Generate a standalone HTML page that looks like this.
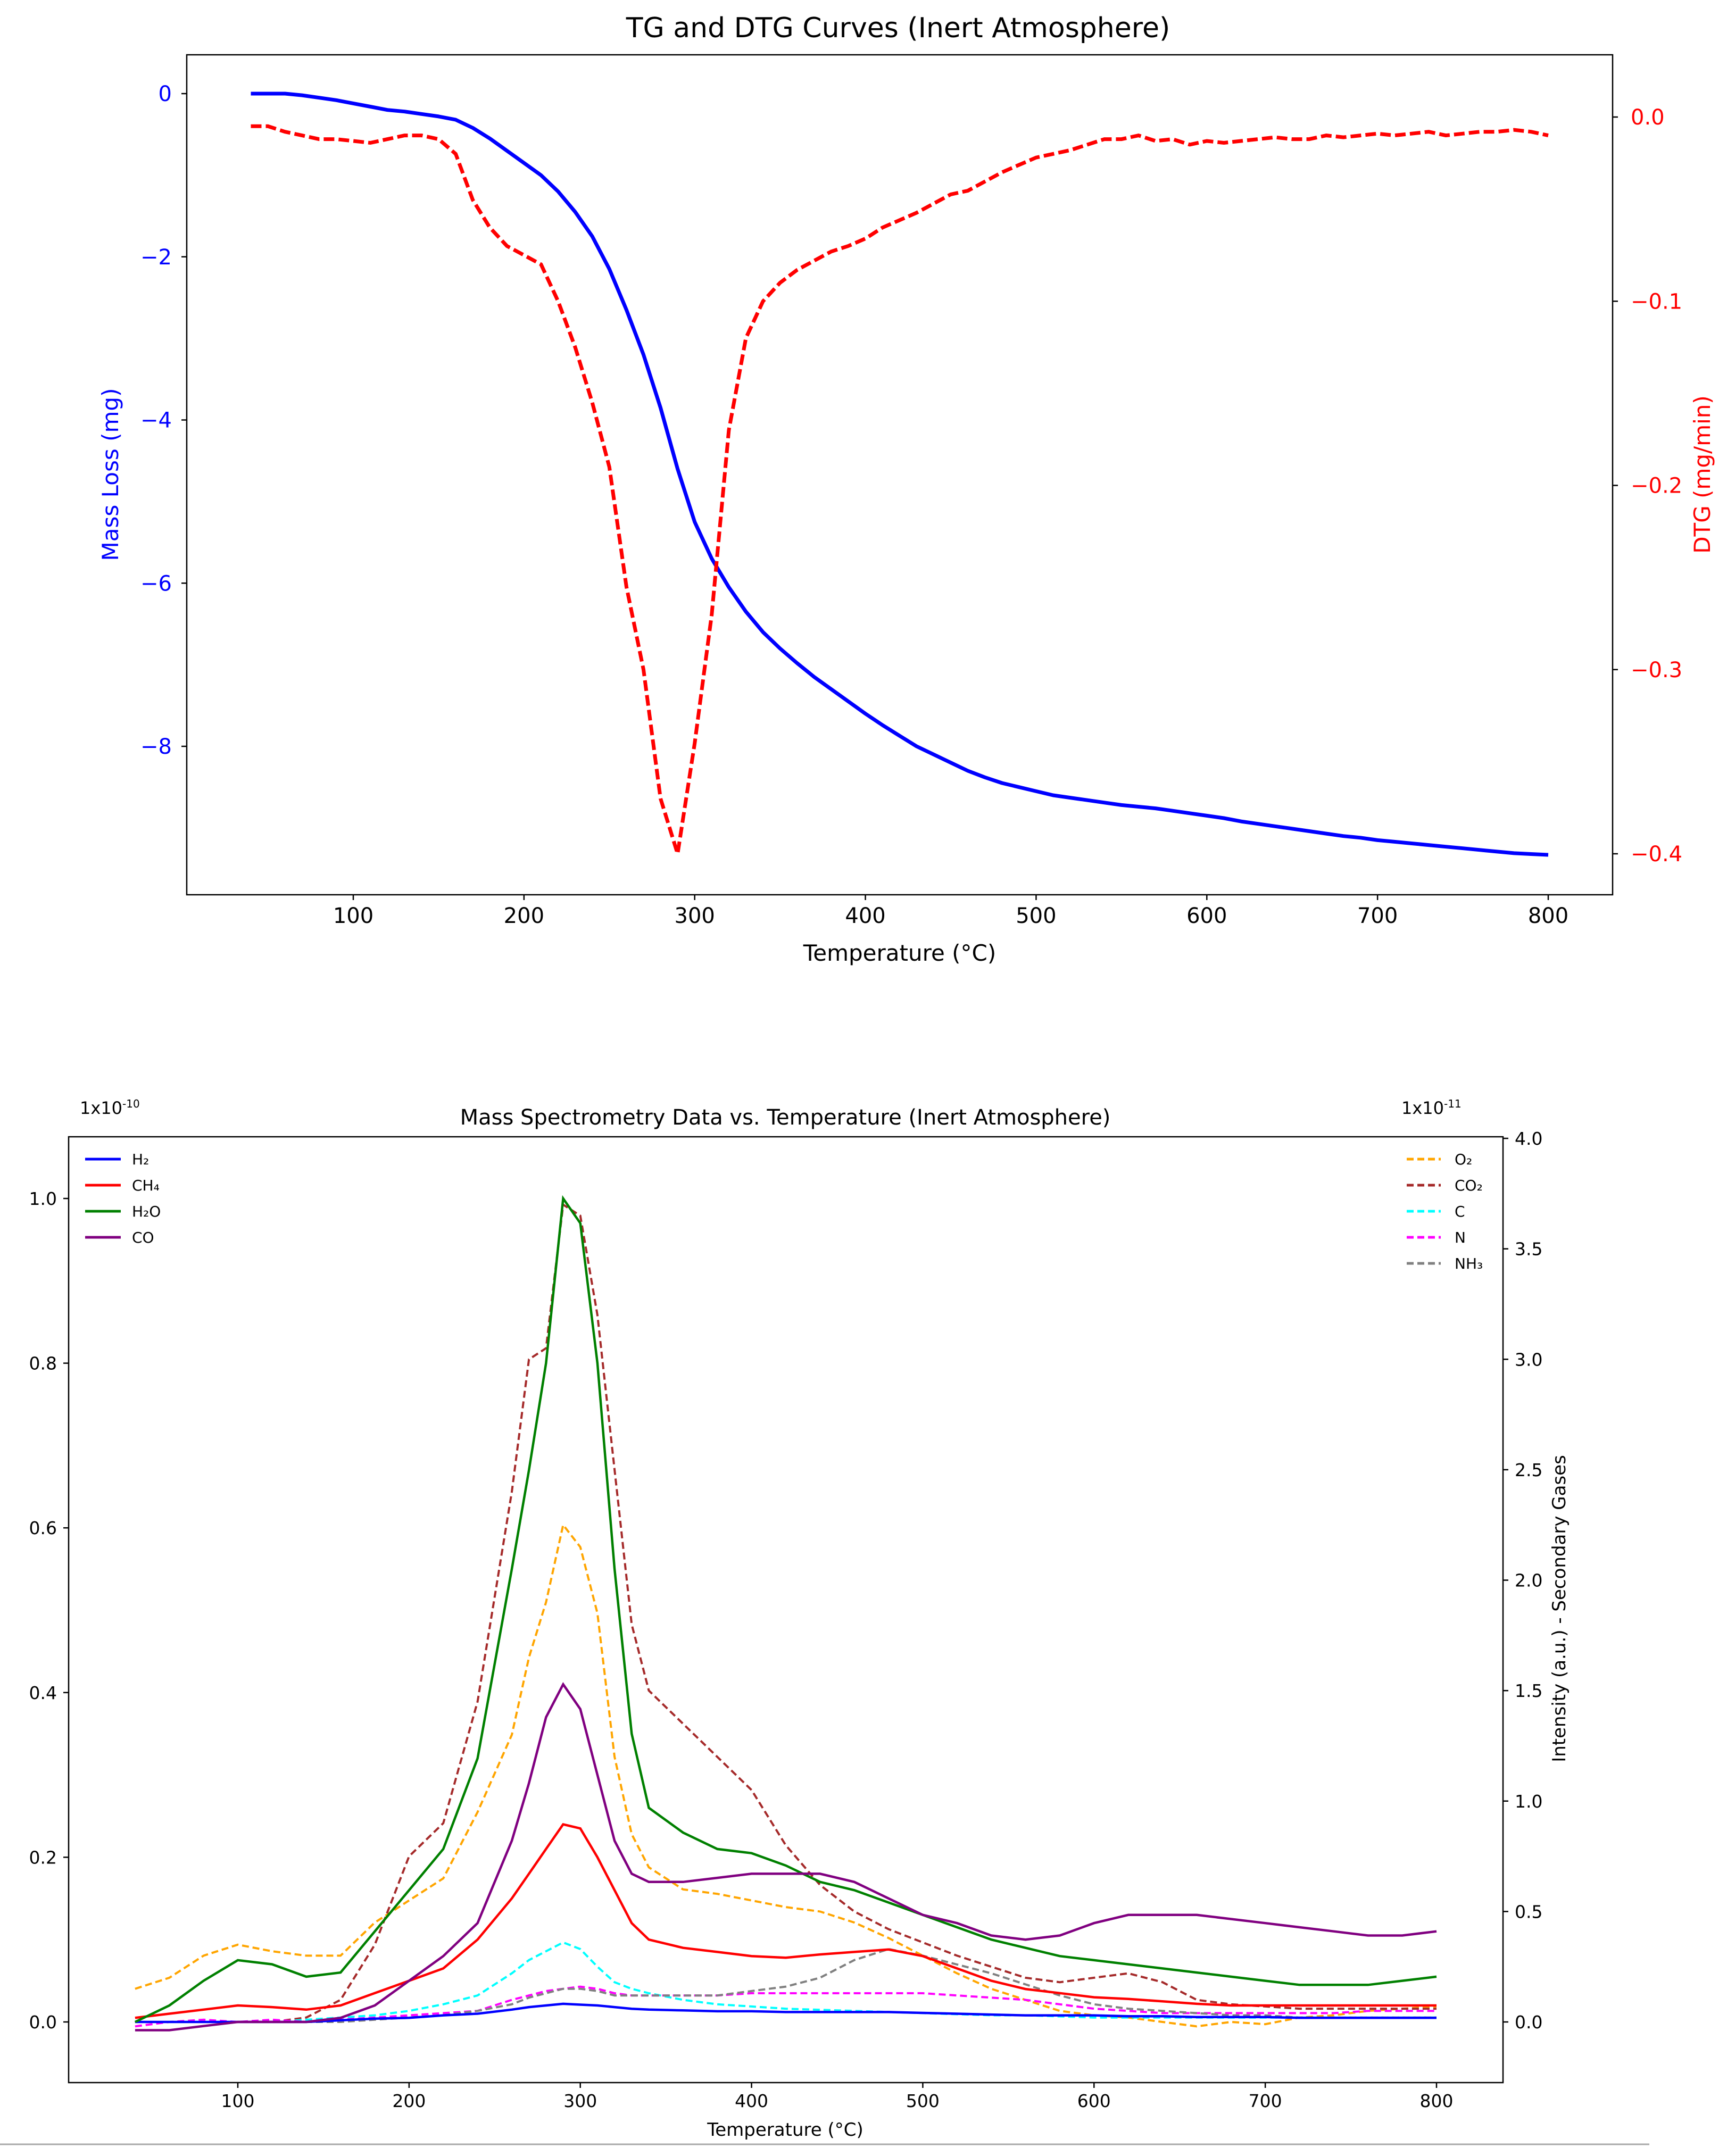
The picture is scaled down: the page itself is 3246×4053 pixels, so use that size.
<!DOCTYPE html>
<html><head><meta charset="utf-8"><style>
html,body{margin:0;padding:0;background:#fff;}
svg{display:block;font-family:"DejaVu Sans","Liberation Sans",sans-serif;}
</style></head><body>
<svg id="chart" width="3246" height="4053" viewBox="0 0 3246 4053" xmlns="http://www.w3.org/2000/svg"></svg>
<script>
// ---------- Top chart data ----------
const tgTemps = [40,50,60,70,80,90,100,110,120,130,140,150,160,170,180,190,200,210,220,230,240,250,260,270,280,290,300,310,320,330,340,350,360,370,380,390,400,410,420,430,440,450,460,470,480,490,500,510,520,530,540,550,560,570,580,590,600,610,620,630,640,650,660,670,680,690,700,710,720,730,740,750,760,770,780,790,800];
const tgMass = [0,0,0,-0.02,-0.05,-0.08,-0.12,-0.16,-0.2,-0.22,-0.25,-0.28,-0.32,-0.42,-0.55,-0.7,-0.85,-1.0,-1.2,-1.45,-1.75,-2.15,-2.65,-3.2,-3.85,-4.6,-5.25,-5.7,-6.05,-6.35,-6.6,-6.8,-6.98,-7.15,-7.3,-7.45,-7.6,-7.74,-7.87,-8.0,-8.1,-8.2,-8.3,-8.38,-8.45,-8.5,-8.55,-8.6,-8.63,-8.66,-8.69,-8.72,-8.74,-8.76,-8.79,-8.82,-8.85,-8.88,-8.92,-8.95,-8.98,-9.01,-9.04,-9.07,-9.1,-9.12,-9.15,-9.17,-9.19,-9.21,-9.23,-9.25,-9.27,-9.29,-9.31,-9.32,-9.33];
const dtgValues = [-0.005,-0.005,-0.008,-0.01,-0.012,-0.012,-0.013,-0.014,-0.012,-0.01,-0.01,-0.012,-0.02,-0.045,-0.06,-0.07,-0.075,-0.08,-0.1,-0.125,-0.155,-0.19,-0.255,-0.3,-0.37,-0.4,-0.34,-0.27,-0.17,-0.12,-0.1,-0.09,-0.083,-0.078,-0.073,-0.07,-0.066,-0.06,-0.056,-0.052,-0.047,-0.042,-0.04,-0.035,-0.03,-0.026,-0.022,-0.02,-0.018,-0.015,-0.012,-0.012,-0.01,-0.013,-0.012,-0.015,-0.013,-0.014,-0.013,-0.012,-0.011,-0.012,-0.012,-0.01,-0.011,-0.01,-0.009,-0.01,-0.009,-0.008,-0.01,-0.009,-0.008,-0.008,-0.007,-0.008,-0.01];
const topXTicks = [100,200,300,400,500,600,700,800];
const massTicks = [0,-2,-4,-6,-8];
const dtgTicks = [0.0,-0.1,-0.2,-0.3,-0.4];

// ---------- MS chart data ----------
const msTemps = [40,60,80,100,120,140,160,180,200,220,240,260,270,280,290,300,310,320,330,340,360,380,400,420,440,460,480,500,520,540,560,580,600,620,640,660,680,700,720,740,760,780,800];
const h2 = [0,0,0,0,0,0,0.002,0.004,0.005,0.008,0.01,0.015,0.018,0.02,0.022,0.021,0.02,0.018,0.016,0.015,0.014,0.013,0.013,0.012,0.012,0.012,0.012,0.011,0.01,0.009,0.008,0.008,0.008,0.007,0.007,0.006,0.006,0.006,0.005,0.005,0.005,0.005,0.005];
const ch4 = [0.005,0.01,0.015,0.02,0.018,0.015,0.02,0.035,0.05,0.065,0.1,0.15,0.18,0.21,0.24,0.235,0.2,0.16,0.12,0.1,0.09,0.085,0.08,0.078,0.082,0.085,0.088,0.08,0.065,0.05,0.04,0.035,0.03,0.028,0.025,0.022,0.02,0.02,0.02,0.02,0.02,0.02,0.02];
const h2o = [0,0.02,0.05,0.075,0.07,0.055,0.06,0.11,0.16,0.21,0.32,0.55,0.67,0.8,1.0,0.97,0.8,0.55,0.35,0.26,0.23,0.21,0.205,0.19,0.17,0.16,0.145,0.13,0.115,0.1,0.09,0.08,0.075,0.07,0.065,0.06,0.055,0.05,0.045,0.045,0.045,0.05,0.055];
const co = [-0.01,-0.01,-0.005,0,0,0,0.005,0.02,0.05,0.08,0.12,0.22,0.29,0.37,0.41,0.38,0.3,0.22,0.18,0.17,0.17,0.175,0.18,0.18,0.18,0.17,0.15,0.13,0.12,0.105,0.1,0.105,0.12,0.13,0.13,0.13,0.125,0.12,0.115,0.11,0.105,0.105,0.11];
const o2 = [0.15,0.2,0.3,0.35,0.32,0.3,0.3,0.45,0.55,0.65,0.95,1.3,1.65,1.9,2.25,2.15,1.85,1.2,0.85,0.7,0.6,0.58,0.55,0.52,0.5,0.45,0.38,0.3,0.22,0.15,0.1,0.05,0.03,0.02,0,-0.02,0,-0.01,0.02,0.03,0.05,0.06,0.07];
const co2 = [0,0,0,0,0,0.02,0.1,0.35,0.75,0.9,1.45,2.4,3.0,3.05,3.7,3.65,3.2,2.5,1.8,1.5,1.35,1.2,1.05,0.8,0.62,0.5,0.42,0.36,0.3,0.25,0.2,0.18,0.2,0.22,0.18,0.1,0.08,0.07,0.06,0.06,0.06,0.06,0.06];
const cGas = [0,0,0,0,0,0.01,0.02,0.03,0.05,0.08,0.12,0.22,0.28,0.32,0.36,0.33,0.25,0.18,0.15,0.13,0.1,0.08,0.07,0.06,0.055,0.05,0.045,0.04,0.035,0.03,0.03,0.025,0.02,0.02,0.02,0.02,0.02,0.02,0.02,0.02,0.02,0.02,0.02];
const nGas = [-0.02,0,0.01,0,0.01,0,0.01,0.02,0.03,0.04,0.05,0.1,0.12,0.14,0.15,0.16,0.15,0.13,0.12,0.12,0.12,0.12,0.13,0.13,0.13,0.13,0.13,0.13,0.12,0.11,0.1,0.08,0.06,0.05,0.04,0.04,0.04,0.04,0.04,0.04,0.05,0.05,0.05];
const nh3 = [0,0,0,0,0,0,0,0.01,0.02,0.03,0.05,0.08,0.11,0.13,0.15,0.15,0.14,0.12,0.12,0.12,0.12,0.12,0.14,0.16,0.2,0.28,0.33,0.3,0.26,0.22,0.17,0.12,0.08,0.06,0.05,0.04,0.03,0.03,0.02,0.02,0.02,0.02,0.02];
const msXTicks = [100,200,300,400,500,600,700,800];
const msLeftTicks = [0.0,0.2,0.4,0.6,0.8,1.0];
const msRightTicks = [0.0,0.5,1.0,1.5,2.0,2.5,3.0,3.5,4.0];

const NS = "http://www.w3.org/2000/svg";
const svg = document.getElementById('chart');
function mk(tag, attrs, parent, text) {
  const e = document.createElementNS(NS, tag);
  for (const k in attrs) e.setAttribute(k, attrs[k]);
  if (text !== undefined) e.textContent = text;
  (parent || svg).appendChild(e);
  return e;
}
function fmt(v, d) { const s = v.toFixed(d); return v < 0 ? '\u2212' + s.slice(1) : s; }
function pathD(xs, ys, fx, fy) { return xs.map((x, i) => (i ? 'L' : 'M') + fx(x).toFixed(1) + ' ' + fy(ys[i]).toFixed(1)).join(' '); }

// ===== TOP CHART =====
const T = {l:351, r:3031, t:103, b:1682};
const tx = v => 664 + (v - 100) * (2910 - 664) / 700;
const tyL = v => 176 + (0 - v) * (1403 - 176) / 8;
const tyR = v => 220 + (0 - v) * (1605 - 220) / 0.4;

let t = mk('text', {x:1688, y:70, 'font-size':52, 'text-anchor':'middle', fill:'#000'}, svg, 'TG and DTG Curves (Inert Atmosphere)');
 

let g = mk('g', {});  
topXTicks.forEach(v => {
  mk('line', {x1:tx(v), x2:tx(v), y1:T.b, y2:T.b+10, stroke:'#000', 'stroke-width':2.5}, g);
  const e = mk('text', {x:tx(v), y:T.b+53, 'font-size':40, 'text-anchor':'middle'}, g, String(v));
   
});
t = mk('text', {x:1691, y:1806, 'font-size':42, 'text-anchor':'middle'}, svg, 'Temperature (°C)');
 

g = mk('g', {});  
massTicks.forEach(v => {
  mk('line', {x1:T.l-10, x2:T.l, y1:tyL(v), y2:tyL(v), stroke:'#000', 'stroke-width':2.5}, g);
  const e = mk('text', {x:T.l-28, y:tyL(v)+14, 'font-size':40, 'text-anchor':'end', fill:'#0000ff'}, g, fmt(v, 0));
   
});
t = mk('text', {x:0, y:0, 'font-size':42, 'text-anchor':'middle', fill:'#0000ff', transform:'translate(222,892) rotate(-90)'}, svg, 'Mass Loss (mg)');
 

g = mk('g', {});  
dtgTicks.forEach(v => {
  mk('line', {x1:T.r, x2:T.r+10, y1:tyR(v), y2:tyR(v), stroke:'#000', 'stroke-width':2.5}, g);
  const e = mk('text', {x:T.r+34, y:tyR(v)+14, 'font-size':40, 'text-anchor':'start', fill:'#ff0000'}, g, fmt(v, 1));
   
});
t = mk('text', {x:0, y:0, 'font-size':42, 'text-anchor':'middle', fill:'#ff0000', transform:'translate(3214,892) rotate(-90)'}, svg, 'DTG (mg/min)');
 

let p = mk('path', {d:pathD(tgTemps, tgMass, tx, tyL), fill:'none', stroke:'#0000ff', 'stroke-width':7, 'stroke-linejoin':'round'});
 
p = mk('path', {d:pathD(tgTemps, dtgValues, tx, tyR), fill:'none', stroke:'#ff0000', 'stroke-width':7, 'stroke-dasharray':'20 8'});
 
let fr = mk('rect', {x:T.l, y:T.t, width:T.r-T.l, height:T.b-T.t, fill:'none', stroke:'#000', 'stroke-width':2.5});
 

// ===== MS CHART =====
const M = {l:129, r:2825, t:2137, b:3915};
const mx = v => 447 + (v - 100) * (2700 - 447) / 700;
const myL = v => 3801 - v * (3801 - 2253);
const myR = v => 3801 - v * (3801 - 2140) / 4;

t = mk('text', {x:1476, y:2114, 'font-size':40, 'text-anchor':'middle'}, svg, 'Mass Spectrometry Data vs. Temperature (Inert Atmosphere)');
 
t = mk('text', {x:150, y:2094, 'font-size':32}, svg);
 
mk('tspan', {}, t, '1x10'); mk('tspan', {'font-size':20, dy:-12}, t, '-10');
t = mk('text', {x:2634, y:2094, 'font-size':32}, svg);
 
mk('tspan', {}, t, '1x10'); mk('tspan', {'font-size':20, dy:-12}, t, '-11');

g = mk('g', {});  
msXTicks.forEach(v => {
  mk('line', {x1:mx(v), x2:mx(v), y1:M.b, y2:M.b+10, stroke:'#000', 'stroke-width':2.5}, g);
  const e = mk('text', {x:mx(v), y:M.b+46, 'font-size':33, 'text-anchor':'middle'}, g, String(v));
   
});
t = mk('text', {x:1476, y:4015, 'font-size':34, 'text-anchor':'middle'}, svg, 'Temperature (°C)');
 

g = mk('g', {});  
msLeftTicks.forEach(v => {
  mk('line', {x1:M.l-10, x2:M.l, y1:myL(v), y2:myL(v), stroke:'#000', 'stroke-width':2.5}, g);
  const e = mk('text', {x:M.l-22, y:myL(v)+12, 'font-size':33, 'text-anchor':'end'}, g, v.toFixed(1));
   
});
g = mk('g', {});  
msRightTicks.forEach(v => {
  mk('line', {x1:M.r, x2:M.r+10, y1:myR(v), y2:myR(v), stroke:'#000', 'stroke-width':2.5}, g);
  const e = mk('text', {x:M.r+22, y:myR(v)+12, 'font-size':33, 'text-anchor':'start'}, g, v.toFixed(1));
   
});
t = mk('text', {x:0, y:0, 'font-size':34, 'text-anchor':'middle', transform:'translate(2942,3024) rotate(-90)'}, svg, 'Intensity (a.u.) - Secondary Gases');
 

const leftSeries = [['H₂', h2, '#0000ff'], ['CH₄', ch4, '#ff0000'], ['H₂O', h2o, '#008000'], ['CO', co, '#800080']];
const rightSeries = [['O₂', o2, '#ffa500'], ['CO₂', co2, '#a52a2a'], ['C', cGas, '#00ffff'], ['N', nGas, '#ff00ff'], ['NH₃', nh3, '#808080']];

// draw right (dashed) first, then left lines
rightSeries.forEach(s => {
  const e = mk('path', {d:pathD(msTemps, s[1], mx, myR), fill:'none', stroke:s[2], 'stroke-width':4, 'stroke-dasharray':'13 7'});
   
});
leftSeries.forEach(s => {
  const e = mk('path', {d:pathD(msTemps, s[1], mx, myL), fill:'none', stroke:s[2], 'stroke-width':4.5});
   
});

g = mk('g', {});  
leftSeries.forEach((s, i) => {
  const y = 2179 + i * 49;
  const le = mk('g', {}, g);  
  mk('line', {x1:160, x2:227, y1:y, y2:y, stroke:s[2], 'stroke-width':5}, le);
  mk('text', {x:248, y:y+10, 'font-size':28}, le, s[0]);
});
g = mk('g', {});  
rightSeries.forEach((s, i) => {
  const y = 2179 + i * 49;
  const le = mk('g', {}, g);  
  mk('line', {x1:2644, x2:2708, y1:y, y2:y, stroke:s[2], 'stroke-width':5, 'stroke-dasharray':'13 7'}, le);
  mk('text', {x:2734, y:y+10, 'font-size':28}, le, s[0]);
});

fr = mk('rect', {x:M.l, y:M.t, width:M.r-M.l, height:M.b-M.t, fill:'none', stroke:'#000', 'stroke-width':2.5});
 
const hl = mk('line', {x1:0, x2:3100, y1:4031, y2:4031, stroke:'#aaaaaa', 'stroke-width':3});
 
</script>
</body></html>
